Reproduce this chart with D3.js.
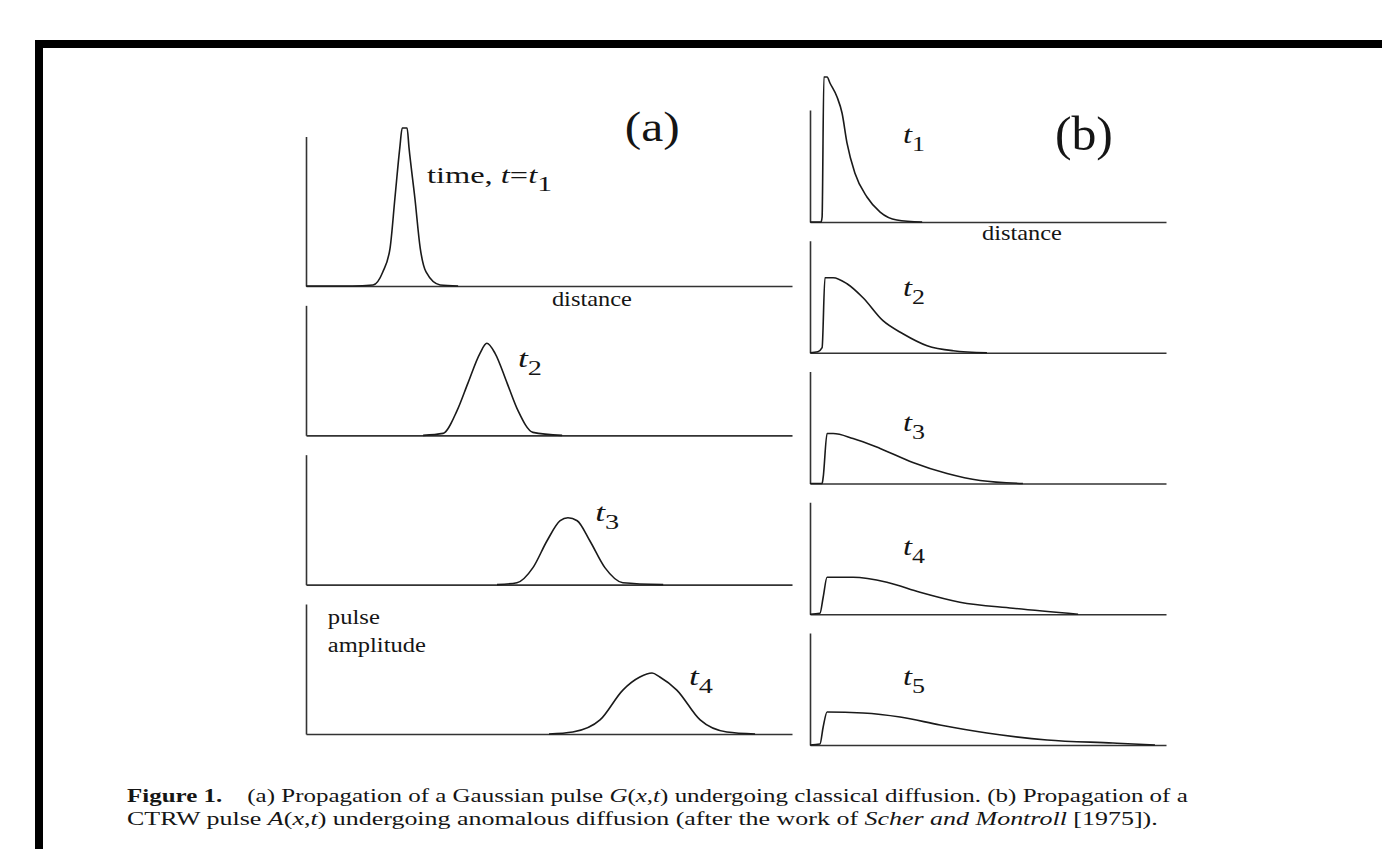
<!DOCTYPE html>
<html>
<head>
<meta charset="utf-8">
<script src="https://cdn.jsdelivr.net/npm/d3@7"></script>
<style>
  body { margin: 0; background: #fff; }
  svg { display: block; }
</style>
</head>
<body>
<div id="paper"></div>
<script>
// (a) gaussian pulses, [distance, amplitude]
var gaussT1 = [[0,0],[9.5,0],[13.8,0.008],[15.8,0.108],[17.3,0.292],[18.3,0.677],[19.3,1.062],[19.8,1.215],[20.8,1.215],[21.2,1.062],[22.4,0.677],[23.5,0.292],[24.7,0.108],[27.6,0.008],[31.3,0]];
var gaussT2 = [[24.1,0],[28.2,0.015],[31.1,0.192],[33.3,0.400],[35.8,0.631],[37.2,0.708],[38.9,0.631],[41.4,0.400],[43.6,0.192],[46.7,0.023],[52.7,0]];
var gaussT3 = [[39.3,0],[43.4,0.015],[46.7,0.131],[49.6,0.338],[52.3,0.492],[53.9,0.515],[55.8,0.492],[58.4,0.338],[61.5,0.131],[65.2,0.015],[73.5,0]];
var gaussT4 = [[50.0,0],[54.9,0.015],[60.5,0.108],[65.2,0.338],[68.7,0.438],[71.2,0.469],[72.8,0.438],[76.3,0.338],[81.1,0.108],[86.6,0.015],[92.4,0]];

// (b) CTRW pulses
var ctrwT1 = [[0,0],[3.1,0],[3.4,0.045],[3.9,1.295],[4.8,1.295],[5.6,1.241],[7.6,1.116],[9.0,0.973],[10.4,0.705],[12.6,0.438],[16.0,0.223],[19.7,0.089],[24.4,0.018],[31.5,0]];
var ctrwT2 = [[0,0],[2.2,0.009],[3.4,0.045],[4.2,0.670],[6.5,0.670],[10.4,0.616],[14.9,0.491],[20.5,0.286],[26.1,0.170],[32.9,0.063],[40.2,0.018],[49.7,0]];
var ctrwT3 = [[0,0],[3.4,0],[3.7,0.054],[4.8,0.446],[6.5,0.446],[12.1,0.402],[19.7,0.313],[28.9,0.188],[38.5,0.089],[47.8,0.027],[59.8,0]];
var ctrwT4 = [[0,0],[2.8,0.009],[3.7,0.152],[4.8,0.330],[12.1,0.330],[21.6,0.286],[30.9,0.196],[42.1,0.107],[57.0,0.054],[75.3,0]];
var ctrwT5 = [[0,0],[2.8,0.009],[3.7,0.161],[4.8,0.295],[14.9,0.286],[25.3,0.250],[36.5,0.179],[49.7,0.107],[66.6,0.045],[85.1,0.018],[96.9,0]];

var curvesA = [gaussT1, gaussT2, gaussT3, gaussT4];
var curvesB = [ctrwT1, ctrwT2, ctrwT3, ctrwT4, ctrwT5];
var axisTopA = [1.15, 1, 1, 1];
var axisTopB = [1, 1, 1, 1, 1];
var subsA = ["2", "3", "4"];
var subsB = ["1", "2", "3", "4", "5"];

var width = 1382, height = 849;
var serif = "Liberation Serif";
var svg = d3.select("#paper").append("svg")
    .attr("width", width)
    .attr("height", height)
    .attr("font-family", serif);

// page frame (top and left bars)
svg.append("rect").attr("x", 35).attr("y", 40).attr("width", width - 35).attr("height", 8).attr("fill", "#000");
svg.append("rect").attr("x", 35).attr("y", 40).attr("width", 8).attr("height", height - 40).attr("fill", "#000");

var xA = d3.scaleLinear().domain([0, 100]).range([306, 792]);
var xB = d3.scaleLinear().domain([0, 100]).range([810, 1166]);
var baseA = d3.scaleLinear().domain([0, 3]).range([286, 734]);
var baseB = d3.scaleLinear().domain([0, 4]).range([222, 745]);
var unitA = 130, unitB = 112;

function panelY(base, unit) {
  return d3.scaleLinear().domain([0, 1]).range([base, base - unit]);
}

function txt(x, y, size) {
  return svg.append("text")
    .attr("x", x).attr("y", y)
    .attr("font-family", serif)
    .attr("font-size", size)
    .attr("fill", "#151515");
}

// stretch a text to a target width (the scan is wider than the font)
function fit(t, w) {
  var len = t.node().getComputedTextLength();
  var x = +t.attr("x"), y = +t.attr("y");
  t.attr("x", 0).attr("y", 0)
   .attr("transform", "translate(" + x + "," + y + ") scale(" + (w / len) + ",1)");
  return t;
}

function tLabel(x, y, sub, w) {
  var t = txt(x, y, 25);
  t.append("tspan").attr("font-style", "italic").text("t");
  t.append("tspan").attr("dy", 8).attr("font-size", 20).text(sub);
  fit(t, w);
}

function drawPanel(x, y, top, pts) {
  var g = svg.append("g");
  var ya = y.copy().domain([0, top]).range([y(0), y(top)]);
  g.append("g").attr("transform", "translate(0," + y(0) + ")")
    .call(d3.axisBottom(x).tickValues([]).tickSizeOuter(0));
  g.append("g").attr("transform", "translate(" + x(0) + ",0)")
    .call(d3.axisLeft(ya).tickValues([]).tickSizeOuter(0));
  g.selectAll(".domain").attr("stroke", "#333").attr("stroke-width", 1.6);
  var line = d3.line()
    .x(function(d) { return x(d[0]); })
    .y(function(d) { return y(d[1]); })
    .curve(d3.curveMonotoneX);
  g.append("path").datum(pts)
    .attr("d", line)
    .attr("fill", "none")
    .attr("stroke", "#1a1a1a")
    .attr("stroke-width", 1.6);
}

curvesA.forEach(function(pts, i) {
  drawPanel(xA, panelY(baseA(i), unitA), axisTopA[i], pts);
});
curvesB.forEach(function(pts, i) {
  drawPanel(xB, panelY(baseB(i), unitB), axisTopB[i], pts);
});

// labels, panel (a)
var ya0 = panelY(baseA(0), unitA);
var t1 = txt(xA(24.9), ya0(0.79), 24);
t1.append("tspan").text("time, ");
t1.append("tspan").attr("font-style", "italic").text("t");
t1.append("tspan").text("=");
t1.append("tspan").attr("font-style", "italic").text("t");
t1.append("tspan").attr("dy", 8).attr("font-size", 22).text("1");
fit(t1, 125);

fit(txt(xA(50.6), ya0(-0.154), 21).text("distance"), 80);
fit(txt(xA(65.6), ya0(1.115), 42).text("(a)"), 55);

var labPosA = [[43.6, 0.523], [59.5, 0.49], [78.8, 0.377]];
subsA.forEach(function(s, i) {
  var y = panelY(baseA(i + 1), unitA);
  tLabel(xA(labPosA[i][0]), y(labPosA[i][1]), s, 24);
});

var ya3 = panelY(baseA(3), unitA);
fit(txt(xA(4.5), ya3(0.846), 20).text("pulse"), 52);
fit(txt(xA(4.5), ya3(0.63), 20).text("amplitude"), 98);

// labels, panel (b)
var yb0 = panelY(baseB(0), unitB);
fit(txt(xB(48.3), yb0(-0.16), 21).text("distance"), 80);
fit(txt(xB(68.8), yb0(0.643), 48).text("(b)"), 58);

var labYB = [0.705, 0.509, 0.473, 0.527, 0.536];
subsB.forEach(function(s, i) {
  var y = panelY(baseB(i), unitB);
  tLabel(xB(26.1), y(labYB[i]), s, 22);
});

// caption
var c1 = txt(127, 802, 19.5);
c1.append("tspan").attr("font-weight", "bold").text("Figure 1.");
c1.append("tspan").text("\u00a0\u00a0\u00a0 (a) Propagation of a Gaussian pulse ");
c1.append("tspan").attr("font-style", "italic").text("G");
c1.append("tspan").text("(");
c1.append("tspan").attr("font-style", "italic").text("x");
c1.append("tspan").text(",");
c1.append("tspan").attr("font-style", "italic").text("t");
c1.append("tspan").text(") undergoing classical diffusion. (b) Propagation of a");
fit(c1, 1061);

var c2 = txt(127, 825, 19.5);
c2.append("tspan").text("CTRW pulse ");
c2.append("tspan").attr("font-style", "italic").text("A");
c2.append("tspan").text("(");
c2.append("tspan").attr("font-style", "italic").text("x");
c2.append("tspan").text(",");
c2.append("tspan").attr("font-style", "italic").text("t");
c2.append("tspan").text(") undergoing anomalous diffusion (after the work of ");
c2.append("tspan").attr("font-style", "italic").text("Scher and Montroll");
c2.append("tspan").text(" [1975]).");
fit(c2, 1031);
</script>
</body>
</html>
